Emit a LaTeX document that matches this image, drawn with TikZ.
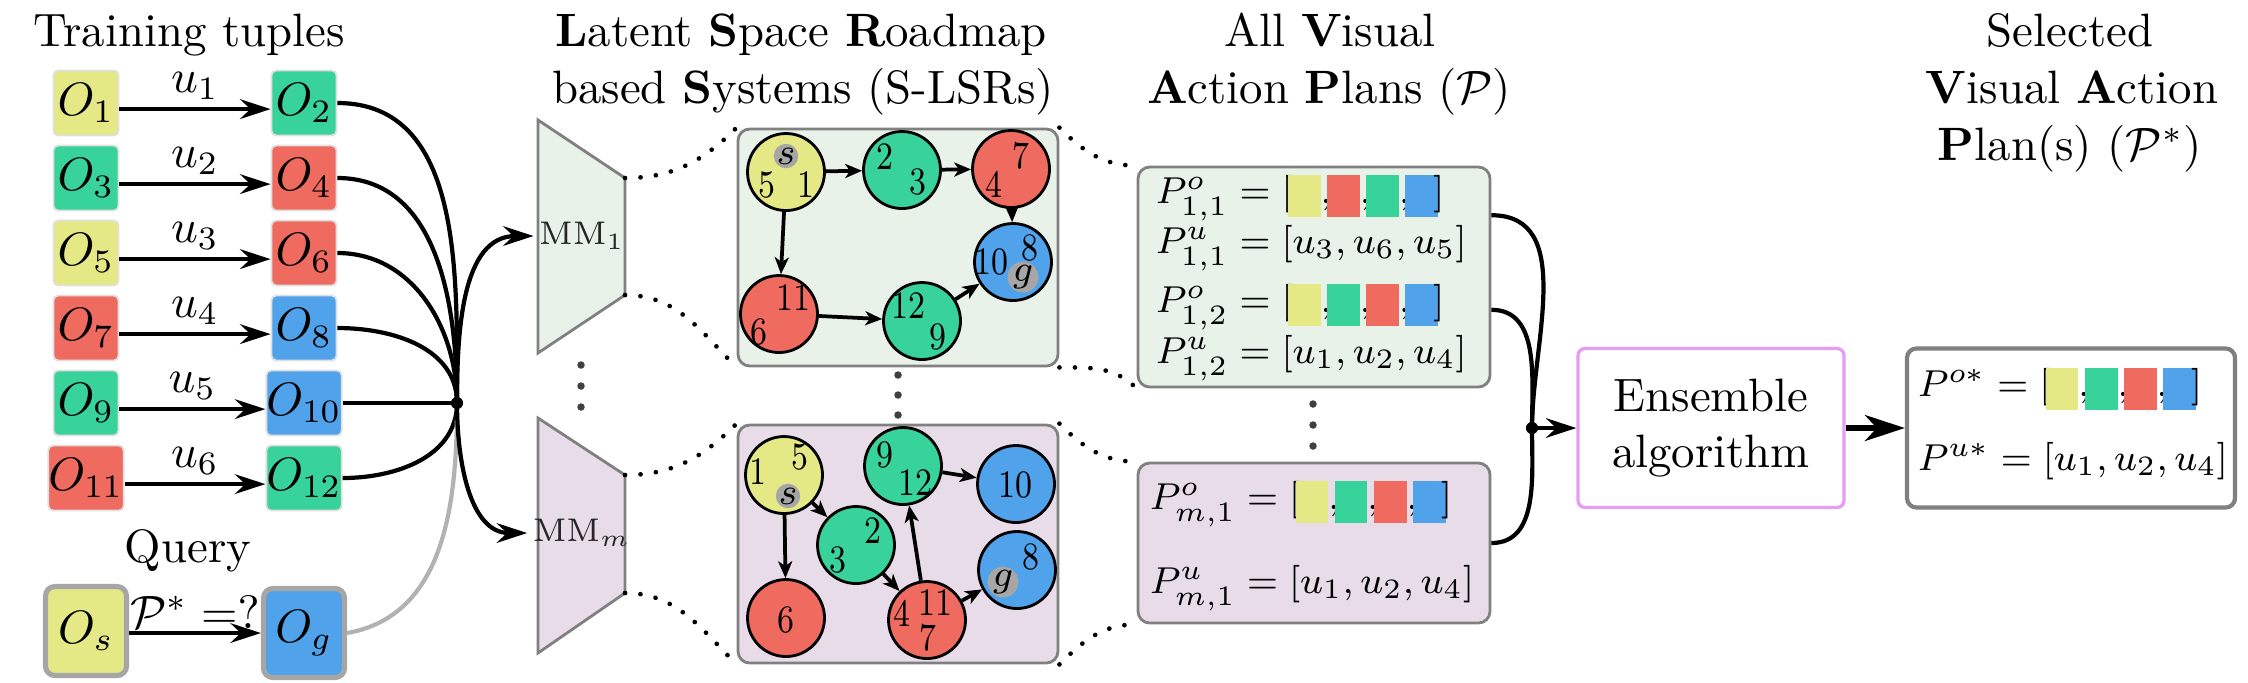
\documentclass[tikz,border=0pt]{standalone}
\usepackage{graphicx}
\usetikzlibrary{arrows.meta}
\definecolor{cy}{RGB}{228,233,133}
\definecolor{cg}{RGB}{56,211,155}
\definecolor{cr}{RGB}{239,107,96}
\definecolor{cb}{RGB}{80,162,234}
\definecolor{lgreen}{RGB}{232,242,233}
\definecolor{lpurple}{RGB}{232,220,233}
\definecolor{pinkb}{RGB}{230,156,242}
\newdimen\pxu \pxu=0.0075cm
\newcommand{\sqb}[1]{\textcolor{#1}{\rule[-3pt]{7pt}{9pt}}}
\newcommand{\sqrow}[4]{[\kern-1pt\sqb{#1}{,}\kern-1pt\sqb{#2}{,}\kern-1pt\sqb{#3}{,}\kern-1pt\sqb{#4}\kern-1pt]}
\newcommand{\dg}[1]{\scalebox{0.82}[1]{#1}}
\begin{document}
\begin{tikzpicture}[x=0.0075cm,y=-0.0075cm,
  title/.style={anchor=base,inner sep=0pt},
  obox/.style={draw=black!12,line width=0.4pt,rounded corners=1pt,minimum width=65\pxu,minimum height=65\pxu,inner sep=0pt},
  qbox/.style={draw=black!35,line width=1.1pt,rounded corners=2pt,minimum width=81\pxu,minimum height=89\pxu,inner sep=0pt},
  arr/.style={line width=0.9pt,-{Stealth[length=6.5pt,width=4.2pt,inset=2.2pt]}},
  bigarr/.style={line width=1.3pt,-{Stealth[length=8.5pt,width=5.5pt,inset=2.5pt]}},
  link/.style={line width=0.9pt},
  ulab/.style={above,inner sep=1.5pt},
  gnode/.style={circle,draw=black,line width=0.6pt,minimum size=77\pxu,inner sep=0pt},
  num/.style={font=\fontsize{8.3}{9}\selectfont,inner sep=0pt},
  tagn/.style={circle,fill=black!35,minimum size=23\pxu,inner sep=0pt,font=\fontsize{8}{9}\selectfont},
  garr/.style={line width=0.8pt,-{Stealth[length=3.6pt,width=3pt,inset=1pt]}},
  panel/.style={draw=black!50,line width=0.6pt,rounded corners=2.5pt,inner sep=0pt},
  trap/.style={draw=black!50,line width=0.6pt},
  dots/.style={line width=1pt,dash pattern=on 0.01pt off 3.3pt,line cap=round},
  prow/.style={anchor=base west,inner sep=0pt,font=\fontsize{8.5}{10}\selectfont},
  mmlab/.style={font=\scriptsize,text=black!85,inner sep=1pt}
]
\useasboundingbox (0,0) rectangle (2248,682);

% ---------- titles ----------
\node[title] (t1) at (189,46) {Training tuples};
\node[title] (t2a) at (801,46) {\textbf{L}atent \textbf{S}pace \textbf{R}oadmap};
\node[title] (t2b) at (803,103) {based \textbf{S}ystems (S-LSRs)};
\node[title] (t3a) at (1330,46) {All \textbf{V}isual};
\node[title] (t3b) at (1329,103) {\textbf{A}ction \textbf{P}lans ($\mathcal{P}$)};
\node[title] (t4a) at (2070,46) {Selected};
\node[title] (t4b) at (2072,103) {\textbf{V}isual \textbf{A}ction};
\node[title] (t4c) at (2070,160) {\textbf{P}lan(s) ($\mathcal{P}^*$)};

% ---------- training tuples ----------
\node[obox,fill=cy] (O1) at (86,103) {$O_1$};
\node[obox,fill=cg] (O2) at (304,103) {$O_2$};
\node[obox,fill=cg] (O3) at (86,178) {$O_3$};
\node[obox,fill=cr] (O4) at (304,178) {$O_4$};
\node[obox,fill=cy] (O5) at (86,253) {$O_5$};
\node[obox,fill=cr] (O6) at (304,253) {$O_6$};
\node[obox,fill=cr] (O7) at (86,328) {$O_7$};
\node[obox,fill=cb] (O8) at (304,328) {$O_8$};
\node[obox,fill=cg] (O9) at (86,403) {$O_9$};
\node[obox,fill=cb] (O10) at (304,403) {$O_{10}$};
\node[obox,fill=cr] (O11) at (86,478) {$O_{11}$};
\node[obox,fill=cg] (O12) at (304,478) {$O_{12}$};

\draw[arr] ([yshift=-1.3pt]O1.east) -- node[ulab]{$u_1$} ([yshift=-1.3pt]O2.west);
\draw[arr] ([yshift=-1.3pt]O3.east) -- node[ulab]{$u_2$} ([yshift=-1.3pt]O4.west);
\draw[arr] ([yshift=-1.3pt]O5.east) -- node[ulab]{$u_3$} ([yshift=-1.3pt]O6.west);
\draw[arr] ([yshift=-1.3pt]O7.east) -- node[ulab]{$u_4$} ([yshift=-1.3pt]O8.west);
\draw[arr] ([yshift=-1.3pt]O9.east) -- node[ulab]{$u_5$} ([yshift=-1.3pt]O10.west);
\draw[arr] ([yshift=-1.3pt]O11.east) -- node[ulab]{$u_6$} ([yshift=-1.3pt]O12.west);

% query
\node[title] (qt) at (188,562) {Query};
\node[qbox,fill=cy] (Os) at (86,631) {$O_s$};
\node[qbox,fill=cb] (Og) at (304,633) {$O_g$};
\draw[arr] (Os.east |- 0,633) -- node[above,inner sep=0.5pt]{$\mathcal{P}^* =?$} (Og.west);

% junction 1
\coordinate (J1) at (457,403);
\draw[link] (O2.east) to[out=0,in=90] (J1);
\draw[link] (O4.east) to[out=0,in=90] (J1);
\draw[link] (O6.east) to[out=0,in=90] (J1);
\draw[link] (O8.east) to[out=0,in=90] (J1);
\draw[link] (O10.east) -- (J1);
\draw[link] (O12.east) to[out=0,in=-90] (J1);
\draw[link,black!30] (Og.east) to[out=10,in=-90] (J1);
\fill (J1) circle (1.3pt);

% ---------- MM trapezoids ----------
\draw[trap,fill=lgreen] (538,120) -- (625,178) -- (625,295) -- (538,353) -- cycle;
\draw[trap,fill=lpurple] (538,418) -- (625,475) -- (625,593) -- (538,653) -- cycle;
\coordinate (m1t) at (625,178);
\coordinate (m1b) at (625,295);
\coordinate (mmt) at (625,475);
\coordinate (mmb) at (625,593);
\node[mmlab] (mm1) at (582,236) {$\mathrm{MM}_1$};
\node[mmlab] (mmm) at (582,533) {$\mathrm{MM}_m$};
\draw[arr] (J1) to[out=90,in=180] (mm1.west);
\draw[arr] (J1) to[out=-90,in=180] (mmm.west);
\foreach \yy in {365,386,407} \fill[black!75] (581,\yy) circle (0.8pt);

% ---------- roadmap graphs ----------
\node[panel,fill=lgreen,minimum width=320\pxu,minimum height=237\pxu] (G1) at (898,247.5) {};
\node[panel,fill=lpurple,minimum width=320\pxu,minimum height=238\pxu] (G2) at (898,544) {};
\foreach \yy in {375,395,415} \fill[black!75] (898,\yy) circle (0.8pt);

% top graph
\node[gnode,fill=cy] (a1) at (786,172) {};
\node[gnode,fill=cg] (a2) at (902,170) {};
\node[gnode,fill=cr] (a3) at (1011,169) {};
\node[gnode,fill=cb] (a4) at (1013,262) {};
\node[gnode,fill=cr] (a5) at (779,314) {};
\node[gnode,fill=cg] (a6) at (922,321) {};
\node[tagn] (a1s) at (786,156) {$s$};
\node[num] (a1n5) at (767,185) {\dg{5}};
\node[num] (a1n1) at (806,185) {\dg{1}};
\node[num] (a2n2) at (885,157) {\dg{2}};
\node[num] (a2n3) at (918,182) {\dg{3}};
\node[num] (a3n7) at (1021,156) {\dg{7}};
\node[num] (a3n4) at (994,184) {\dg{4}};
\node[num] (a4n8) at (1030,248) {\dg{8}};
\node[num] (a4n10) at (991,262) {\dg{10}};
\node[tagn] (a4g) at (1023,277) {$g$};
\node[num] (a5n11) at (793,298) {\dg{11}};
\node[num] (a5n6) at (759,332) {\dg{6}};
\node[num] (a6n12) at (908,306) {\dg{12}};
\node[num] (a6n9) at (938,337) {\dg{9}};
\draw[garr] (a1) -- (a2);
\draw[garr] (a2) -- (a3);
\draw[garr] (a3) -- (a4);
\draw[garr] (a1) -- (a5);
\draw[garr] (a5) -- (a6);
\draw[garr] (a6) -- (a4);

% bottom graph
\node[gnode,fill=cy] (b1) at (784,475) {};
\node[gnode,fill=cg] (b2) at (903,466) {};
\node[gnode,fill=cb] (b3) at (1016,484) {};
\node[gnode,fill=cg] (b4) at (856,545) {};
\node[gnode,fill=cb] (b5) at (1017,570) {};
\node[gnode,fill=cr] (b6) at (786,618) {};
\node[gnode,fill=cr] (b7) at (927,620) {};
\node[num] (b1n1) at (758,472) {\dg{1}};
\node[num] (b1n5) at (800,457) {\dg{5}};
\node[tagn] (b1s) at (788,496) {$s$};
\node[num] (b2n9) at (885,455) {\dg{9}};
\node[num] (b2n12) at (915,483) {\dg{12}};
\node[num] (b3n10) at (1015,485) {\dg{10}};
\node[num] (b4n2) at (873,531) {\dg{2}};
\node[num] (b4n3) at (838,560) {\dg{3}};
\node[num] (b5n8) at (1031,557) {\dg{8}};
\node[tagn] (b5g) at (1003,582) {$g$};
\node[num] (b6n6) at (786,620) {\dg{6}};
\node[num] (b7n4) at (902,613) {\dg{4}};
\node[num] (b7n11) at (935,603) {\dg{11}};
\node[num] (b7n7) at (928,638) {\dg{7}};
\draw[garr] (b1) -- (b4);
\draw[garr] (b1) -- (b6);
\draw[garr] (b4) -- (b7);
\draw[garr] (b7) -- (b2);
\draw[garr] (b2) -- (b3);
\draw[garr] (b7) -- (b5);

% dotted zoom lines MM -> graphs
\draw[dots] (m1t) to[out=0,in=-135] (G1.north west);
\draw[dots] (m1b) to[out=0,in=135] (G1.south west);
\draw[dots] (mmt) to[out=0,in=-135] (G2.north west);
\draw[dots] (mmb) to[out=0,in=135] (G2.south west);

% ---------- plans ----------
\node[panel,fill=lgreen,minimum width=352\pxu,minimum height=220\pxu] (P1) at (1314,277) {};
\node[panel,fill=lpurple,minimum width=352\pxu,minimum height=160\pxu] (Pm) at (1314,543) {};
\foreach \yy in {404,425,446} \fill[black!75] (1313,\yy) circle (0.8pt);
\node[prow] (r1) at (1155,203) {$P^o_{1,1} = \sqrow{cy}{cr}{cg}{cb}$};
\node[prow] (r2) at (1155,253) {$P^u_{1,1} = [u_3, u_6, u_5]$};
\node[prow] (r3) at (1155,312) {$P^o_{1,2} = \sqrow{cy}{cg}{cr}{cb}$};
\node[prow] (r4) at (1155,363) {$P^u_{1,2} = [u_1, u_2, u_4]$};
\node[prow] (r5) at (1149,509) {$P^o_{m,1} = \sqrow{cy}{cg}{cr}{cb}$};
\node[prow] (r6) at (1149,593) {$P^u_{m,1} = [u_1, u_2, u_4]$};

\draw[dots] (G1.north east) to[out=-45,in=180] (P1.north west);
\draw[dots] (G1.south east) to[out=0,in=135] (P1.south west);
\draw[dots] (G2.north east) to[out=-45,in=180] (Pm.north west);
\draw[dots] (G2.south east) to[out=45,in=180] (Pm.south west);

% junction 2
\coordinate (J2) at (1532,428);
\draw[link] ([yshift=13.2pt]P1.east) to[out=0,in=90] (J2);
\draw[link] ([yshift=-7pt]P1.east) to[out=0,in=90] (J2);
\draw[link] (Pm.east) to[out=0,in=-90] (J2);
\fill (J2) circle (1.3pt);

% ---------- ensemble & result ----------
\node[draw=pinkb,line width=0.7pt,rounded corners=1.5pt,fill=white,minimum width=266\pxu,minimum height=159\pxu,align=center,inner sep=0pt] (ens) at (1711,428) {Ensemble\\algorithm};
\node[draw=black!50,line width=0.9pt,rounded corners=2pt,fill=white,minimum width=328\pxu,minimum height=159\pxu,inner sep=0pt] (res) at (2071,428) {};
\node[prow] (s1) at (1917,396) {$P^{o*} = \sqrow{cy}{cg}{cr}{cb}$};
\node[prow] (s2) at (1917,470) {$P^{u*} = [u_1, u_2, u_4]$};
\draw[arr] (J2) -- (ens.west);
\draw[bigarr] (ens.east) -- (res.west);
\end{tikzpicture}
\end{document}
